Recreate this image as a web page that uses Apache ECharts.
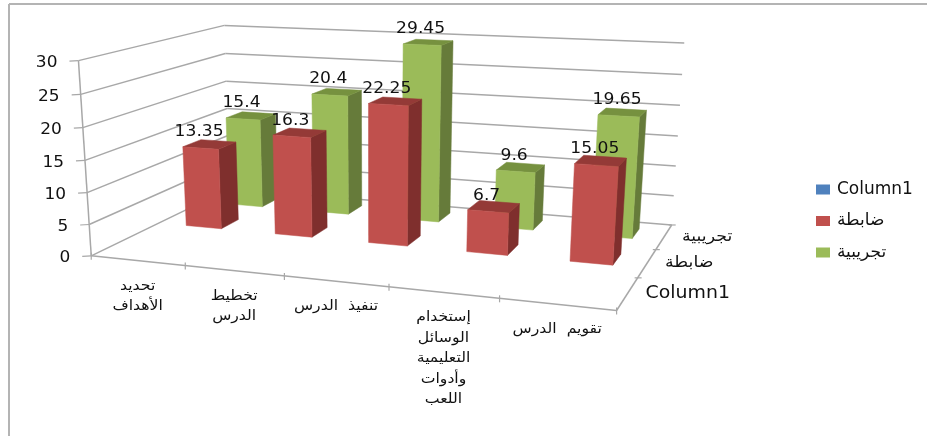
<!DOCTYPE html>
<html><head><meta charset="utf-8">
<style>html,body{margin:0;padding:0;background:#fff}#c{width:927px;height:436px}</style>
<script src="https://cdn.jsdelivr.net/npm/echarts@6/dist/echarts.min.js"></script>
</head><body><div id="c"></div>
<script>
const categories = ['تحديد\nالأهداف','تخطيط\nالدرس','تنفيذ  الدرس','إستخدام\nالوسائل\nالتعليمية\nوأدوات\nاللعب','تقويم  الدرس'];
const depthLabels = ['Column1','ضابطة','تجريبية'];
const column1Values = [];
const controlValues = [13.35,16.3,22.25,6.7,15.05];
const experimentalValues = [15.4,20.4,29.45,9.6,19.65];
const yTicks = [0,5,10,15,20,25,30];

const anchors = [
 [0,0,0,92,255],[1,0,0,186,265],[2,0,0,284,276],[3,0,0,389,288],[4,0,0,498,300],[5,0,0,616,311],
 [5,0,1,639,276],[5,0,2,657,248],[5,0,3,671,225],[0,0,3,229,190],[0,30,3,225,25],[5,30,3,684,44],
 [5,15,3,678,136],[0,30,0,78,60],[0,15,0,85,161],[0,15,3,227,108]
];
function fitCamera(pts){
  const rows=[],rhs=[];
  pts.forEach(([x,y0,z,u,v])=>{const y=y0/10;
    rows.push([x,y,z,1,0,0,0,0,-u*x,-u*y,-u*z]);rhs.push(u);
    rows.push([0,0,0,0,x,y,z,1,-v*x,-v*y,-v*z]);rhs.push(v);});
  const n=11,A=[];
  for(let i=0;i<n;i++){A[i]=[];for(let j=0;j<n;j++){let s=0;rows.forEach(r=>s+=r[i]*r[j]);A[i][j]=s;}
    let s=0;rows.forEach((r,k)=>s+=r[i]*rhs[k]);A[i][n]=s;}
  for(let i=0;i<n;i++){let m=i;for(let k=i+1;k<n;k++)if(Math.abs(A[k][i])>Math.abs(A[m][i]))m=k;
    [A[i],A[m]]=[A[m],A[i]];
    for(let k=0;k<n;k++){if(k===i)continue;const f=A[k][i]/A[i][i];for(let j=i;j<=n;j++)A[k][j]-=f*A[i][j];}}
  return A.map((r,i)=>r[n]/r[i]);
}
const M=fitCamera(anchors);
function proj(x,v,z){const y=v/10,w=M[8]*x+M[9]*y+M[10]*z+1;
  return [(M[0]*x+M[1]*y+M[2]*z+M[3])/w,(M[4]*x+M[5]*y+M[6]*z+M[7])/w];}

const G={left:92,top:60,width:524,height:195};
const toWorld=(p)=>[(p[0]-G.left)/G.width*categories.length,(G.top+G.height-p[1])/G.height*30];
const GRID='#a8a8a8',TXT='#111';
const NUM='"DejaVu Sans"',AR='"DejaVu Sans"';
const line=(a,b,w)=>({type:'line',shape:{x1:a[0],y1:a[1],x2:b[0],y2:b[1]},style:{stroke:GRID,lineWidth:w||1.5},z2:1});
const text=(t,x,y,o,sx)=>({type:'text',x,y,z2:100,scaleX:sx||1,style:Object.assign({text:t,fill:TXT,align:'center',verticalAlign:'middle'},o)});

function gridItem(params,api){
  const v=api.value(0),w=toWorld(api.coord([0,v])),y=w[1];
  const a=proj(0,y,0),b=proj(0,y,3),c=proj(5,y,3),ch=[line(a,b),line(b,c),line(a,[a[0]-9,a[1]+.5],1.2),
    text(String(v),a[0]-21,a[1]+2,{align:'right',fontFamily:NUM,fontSize:16},1.06)];
  if(params.dataIndex===0){ch.push(line(a,proj(0,30,0)),line(a,proj(5,0,0)),line(proj(5,0,0),proj(5,0,3)));}
  return {type:'group',children:ch};
}
function catItem(params,api){
  const i=api.value(0),c=api.coord([i,0]),w=toWorld(c);
  const p=proj(w[0],0,0),t0=proj(i+1,0,0);
  const ch=[line([t0[0],t0[1]-3],[t0[0],t0[1]+4],1.2),
    text(categories[i],p[0],p[1]+15,{verticalAlign:'top',fontFamily:AR,fontSize:14,lineHeight:20.5},1.12)];
  if(i===0){const q=proj(0,0,0);ch.push(line([q[0],q[1]-3],[q[0],q[1]+4],1.2));}
  return {type:'group',children:ch};
}
function depthItem(params,api){
  const i=api.value(0),p=proj(5,0,i+.5),t=proj(5,0,i+1);
  const big=i===0;
  return {type:'group',children:[line([t[0]-3,t[1]],[t[0]+4,t[1]],1.2),
    text(depthLabels[i],p[0]+18,p[1],{align:'left',fontFamily:big?NUM:AR,fontSize:big?18:15.5},big?1.05:1.12)]};
}
const BW=.40,BD=.4,SHIFT=.015,ZC=.53;
function barItem(depth,front,side,top){
  return function(params,api){
    const i=api.value(0),v=api.value(1);
    const c=api.coord([i,v]),band=api.size([1,0])[0],half=band*BW/2,off=band*SHIFT;
    const l=toWorld([c[0]-half+off,c[1]]),r=toWorld([c[0]+half+off,c[1]]);
    const z0=depth+ZC-BD/2,z1=depth+ZC+BD/2,x0=l[0],x1=r[0],h=l[1];
    const poly=(pts,fill)=>({type:'polygon',shape:{points:pts},style:{fill,stroke:fill,lineWidth:.5},z2:5});
    const lbl=proj((x0+x1)/2,h,z0);
    return {type:'group',children:[
      poly([proj(x1,0,z0),proj(x1,0,z1),proj(x1,h,z1),proj(x1,h,z0)],side),
      poly([proj(x0,h,z0),proj(x1,h,z0),proj(x1,h,z1),proj(x0,h,z1)],top),
      poly([proj(x0,0,z0),proj(x1,0,z0),proj(x1,h,z0),proj(x0,h,z0)],front),
      text(String(v),lbl[0]-1.5,lbl[1]-16,{fontFamily:NUM,fontSize:16},1.07)
    ]};
  };
}
const series=[
 {name:'_grid',type:'custom',silent:true,z:1,data:yTicks.map(v=>[v]),encode:{y:0},renderItem:gridItem},
 {name:'_cat',type:'custom',silent:true,z:1,data:categories.map((c,i)=>[i]),encode:{x:0},renderItem:catItem},
 {name:'_depth',type:'custom',silent:true,z:1,data:depthLabels.map((c,i)=>[i]),renderItem:depthItem},
 {name:'Column1',type:'custom',itemStyle:{color:'#4F81BD'},z:2,data:column1Values,renderItem:barItem(0,'#4F81BD','#2F4D71','#3A6190')},
 {name:'تجريبية',type:'custom',silent:true,itemStyle:{color:'#9BBB59'},z:2,encode:{x:0,y:1},data:experimentalValues.map((v,i)=>[i,v]),renderItem:barItem(2,'#9BBB59','#667B3A','#76913F')},
 {name:'ضابطة',type:'custom',silent:true,itemStyle:{color:'#C0504D'},z:3,encode:{x:0,y:1},data:controlValues.map((v,i)=>[i,v]),renderItem:barItem(1,'#C0504D','#7F2F2D','#943A37')}
];
const chart=echarts.init(document.getElementById('c'),null,{renderer:'canvas'});
chart.setOption({
  animation:false,backgroundColor:'#fff',tooltip:{show:false},
  grid:{left:G.left,top:G.top,width:G.width,height:G.height},
  xAxis:{type:'category',data:categories,show:false},
  yAxis:{type:'value',min:0,max:30,interval:5,show:false},
  legend:{data:['Column1','ضابطة','تجريبية'],orient:'vertical',left:811,top:176,icon:'rect',itemWidth:14,itemHeight:10,itemGap:14.5,
    selectedMode:false,textStyle:{fontFamily:NUM,fontSize:17,color:TXT,padding:[0,0,0,2]}},
  graphic:[
    {type:'line',shape:{x1:9,y1:4,x2:927,y2:4},style:{stroke:'#b4b4b4',lineWidth:2}},
    {type:'line',shape:{x1:9,y1:4,x2:9,y2:436},style:{stroke:'#b4b4b4',lineWidth:2}}
  ],
  series
});
</script></body></html>
